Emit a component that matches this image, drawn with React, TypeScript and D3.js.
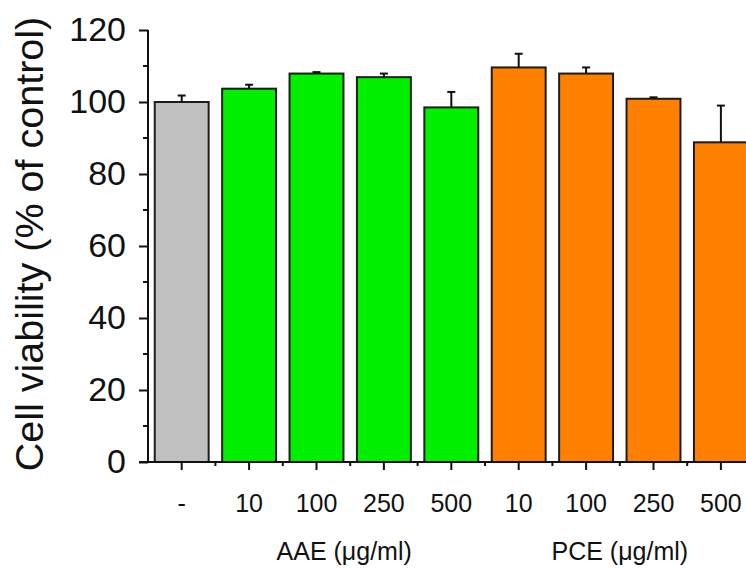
import { useEffect, useRef } from 'react';
import * as d3 from 'd3';

// Cell viability (% of control)
const doseLabels = ['-', '10', '100', '250', '500', '10', '100', '250', '500'];
const treatment = ['control', 'AAE', 'AAE', 'AAE', 'AAE', 'PCE', 'PCE', 'PCE', 'PCE'];
const viability = [100, 103.7, 107.9, 106.9, 98.5, 109.6, 107.9, 100.9, 88.8];
const errorUp = [1.8, 1.1, 0.4, 1.0, 4.3, 3.8, 1.7, 0.4, 10.2];
const groupLabels = ['AAE (\u03bcg/ml)', 'PCE (\u03bcg/ml)'];
const groupKeys = ['AAE', 'PCE'];
const yTicks = [0, 20, 40, 60, 80, 100, 120];
const yMinorTicks = [10, 30, 50, 70, 90, 110];

const fillFor: Record<string, string> = {
  control: '#c0c0c0',
  AAE: '#00f000',
  PCE: '#ff8000',
};

export default function App() {
  const svgRef = useRef<SVGSVGElement | null>(null);

  useEffect(() => {
    if (!svgRef.current) return;
    const width = 746;
    const height = 569;
    const font = "Arial, 'Liberation Sans', sans-serif";

    const svg = d3.select(svgRef.current);
    svg.selectAll('*').remove();

    const idx = doseLabels.map((_, i) => i);
    const x = d3.scaleBand<number>()
      .domain(idx)
      .range([148, 754.6])
      .paddingInner(0.2)
      .paddingOuter(0.1);
    const y = d3.scaleLinear().domain([0, 120]).range([462, 30]);
    const step = x.step();

    // bars
    svg.append('g')
      .selectAll('rect')
      .data(idx)
      .enter()
      .append('rect')
      .attr('x', i => x(i)!)
      .attr('y', i => y(viability[i]))
      .attr('width', x.bandwidth())
      .attr('height', i => y(0) - y(viability[i]))
      .attr('fill', i => fillFor[treatment[i]])
      .attr('stroke', '#1c1c1c')
      .attr('stroke-width', 2);

    // error bars (upper half only)
    const eb = svg.append('g').attr('stroke', '#111').attr('stroke-width', 2);
    idx.forEach(i => {
      const cx = x(i)! + x.bandwidth() / 2;
      const top = y(viability[i] + errorUp[i]);
      eb.append('line')
        .attr('x1', cx).attr('x2', cx)
        .attr('y1', y(viability[i])).attr('y2', top);
      eb.append('line')
        .attr('x1', cx - 4).attr('x2', cx + 4)
        .attr('y1', top).attr('y2', top);
    });

    // y axis
    const yAxis = d3.axisLeft(y).tickValues(yTicks).tickSize(9).tickPadding(13);
    const yg = svg.append('g').attr('transform', 'translate(148,0)').call(yAxis);
    yg.select('.domain').attr('stroke', '#111').attr('stroke-width', 2).attr('d', `M0,${y(120)}V${y(0)}`);
    yg.selectAll('.tick line').attr('stroke', '#111').attr('stroke-width', 2);
    yg.selectAll('.tick text')
      .attr('font-family', font)
      .attr('font-size', 34)
      .attr('fill', '#111');
    yg.append('g')
      .selectAll('line')
      .data(yMinorTicks)
      .enter()
      .append('line')
      .attr('x1', -5).attr('x2', 0)
      .attr('y1', d => y(d)).attr('y2', d => y(d))
      .attr('stroke', '#111').attr('stroke-width', 2);

    // x axis
    const xg = svg.append('g');
    xg.append('line')
      .attr('x1', 139).attr('x2', width)
      .attr('y1', y(0)).attr('y2', y(0))
      .attr('stroke', '#111').attr('stroke-width', 2);
    idx.forEach(i => {
      const cx = x(i)! + x.bandwidth() / 2;
      xg.append('line')
        .attr('x1', cx).attr('x2', cx)
        .attr('y1', y(0)).attr('y2', y(0) + 8)
        .attr('stroke', '#111').attr('stroke-width', 2);
      xg.append('line')
        .attr('x1', 148 + step * (i + 1)).attr('x2', 148 + step * (i + 1))
        .attr('y1', y(0)).attr('y2', y(0) + 4)
        .attr('stroke', '#111').attr('stroke-width', 2);
      xg.append('text')
        .attr('x', cx)
        .attr('y', 512)
        .attr('text-anchor', 'middle')
        .attr('font-family', font)
        .attr('font-size', 25)
        .attr('fill', '#111')
        .text(doseLabels[i]);
    });

    // group labels under the dose labels
    groupKeys.forEach((g, k) => {
      const members = idx.filter(i => treatment[i] === g);
      const first = x(members[0])! + x.bandwidth() / 2;
      const last = x(members[members.length - 1])! + x.bandwidth() / 2;
      svg.append('text')
        .attr('x', (first + last) / 2 - (k === 0 ? 6 : 0))
        .attr('y', 560)
        .attr('text-anchor', 'middle')
        .attr('font-family', font)
        .attr('font-size', 25)
        .attr('fill', '#111')
        .text(groupLabels[k]);
    });

    // y title
    svg.append('text')
      .attr('transform', 'translate(43,244) rotate(-90)')
      .attr('text-anchor', 'middle')
      .attr('font-family', font)
      .attr('font-size', 39.5)
      .attr('fill', '#111')
      .text('Cell viability (% of control)');

    svg.attr('width', width).attr('height', height);
  }, []);

  return (
    <svg
      ref={svgRef}
      width={746}
      height={569}
      viewBox="0 0 746 569"
      style={{ position: 'absolute', left: 0, top: 0, background: '#fff' }}
    />
  );
}
